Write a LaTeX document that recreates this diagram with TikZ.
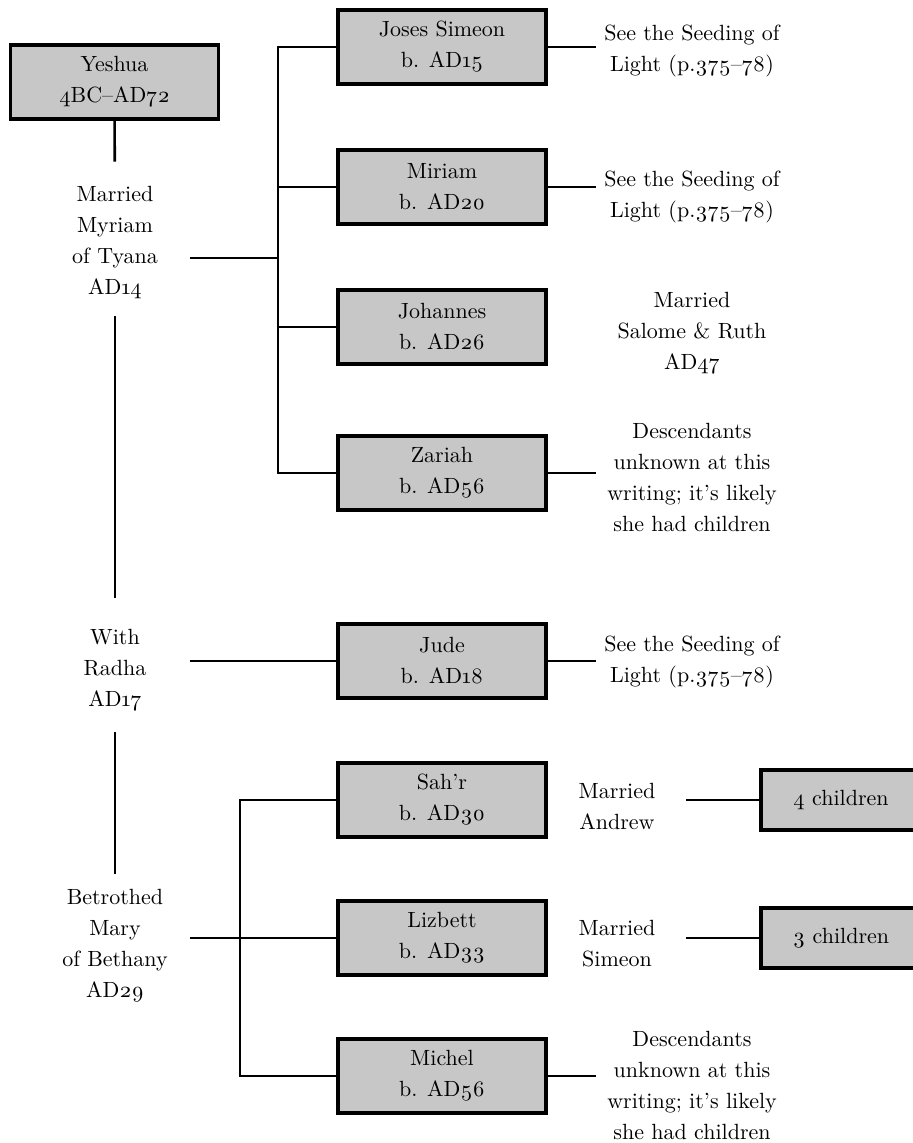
\documentclass[tikz,border=0pt]{standalone}
\usepackage{fontspec}
\setmainfont{Latin Modern Roman}[Numbers=OldStyle]
\usepackage{tikz}
\usetikzlibrary{calc}
\definecolor{boxgray}{RGB}{199,199,199}

\begin{document}
\begin{tikzpicture}[x=0.5pt,y=-0.5pt,
  font=\fontsize{11}{15.5}\selectfont,
  person/.style={draw,line width=1.6pt,fill=boxgray,minimum width=104pt,minimum height=37pt,align=center,inner sep=2pt},
  kids/.style={draw,line width=1.6pt,fill=boxgray,minimum width=80pt,minimum height=30pt},
  union/.style={text width=75pt,inner xsep=0pt,align=center},
  note/.style={text width=92pt,inner xsep=0pt,align=center},
  spouse/.style={text width=61pt,inner xsep=4pt,align=center},
  link/.style={line width=1.3pt}]
\useasboundingbox (0,0) rectangle (912,1143);
\node[person] (yeshua) at (114.5,82) {Yeshua\\4BC--AD72};
\node[union] (tyana) at (115,243) {Married\\Myriam\\of Tyana\\AD14};
\node[union] (radha) at (115,670) {With\\Radha\\AD17};
\node[union] (bethany) at (115,946) {Betrothed\\Mary\\of Bethany\\AD29};

\node[person] (joses) at (442,47) {Joses Simeon\\b. AD15};
\node[person] (miriam) at (442,187) {Miriam\\b. AD20};
\node[person] (johannes) at (442,327) {Johannes\\b. AD26};
\node[person] (zariah) at (442,473) {Zariah\\b. AD56};
\node[person] (jude) at (442,661) {Jude\\b. AD18};
\node[person] (sahr) at (442,800) {Sah'r\\b. AD30};
\node[person] (lizbett) at (442,938) {Lizbett\\b. AD33};
\node[person] (michel) at (442,1076) {Michel\\b. AD56};

\node[note] (josesnote) at (692,51) {See the Seeding of\\Light (p.375--78)};
\node[note] (miriamnote) at (692,197) {See the Seeding of\\Light (p.375--78)};
\node[note] (johannesnote) at (692,333) {Married\\Salome \& Ruth\\AD47};
\node[note] (zariahnote) at (692,477) {Descendants\\unknown at this\\writing; it's likely\\she had children};
\node[note] (judenote) at (692,662) {See the Seeding of\\Light (p.375--78)};
\node[note] (michelnote) at (692,1085) {Descendants\\unknown at this\\writing; it's likely\\she had children};

\node[spouse] (andrew) at (617,806) {Married\\Andrew};
\node[spouse] (simeon) at (617,944) {Married\\Simeon};
\node[kids] (four) at (841,800) {4 children};
\node[kids] (three) at (841,938) {3 children};

\coordinate (tbus) at (278,258);
\coordinate (bbus) at (240,938);

\draw[link,shorten >=9pt] (yeshua) -- (tyana);
\draw[link,shorten <=5pt,shorten >=12pt] (tyana) -- (radha);
\draw[link,shorten <=7pt,shorten >=4pt] (radha) -- (bethany);

\draw[link] (tyana.east |- tbus) -- (tbus);
\draw[link] (joses.west) -| (tbus) |- (zariah.west);
\draw[link] (miriam.west) -- (miriam.west -| tbus);
\draw[link] (johannes.west) -- (johannes.west -| tbus);
\draw[link] (radha.east |- jude) -- (jude.west);
\draw[link] (bethany.east |- lizbett) -- (lizbett.west);
\draw[link] (sahr.west) -| (bbus) |- (michel.west);

\draw[link,shorten >=2pt] (joses.east) -- (joses -| josesnote.west);
\draw[link,shorten >=2pt] (miriam.east) -- (miriam -| miriamnote.west);
\draw[link,shorten >=2pt] (zariah.east) -- (zariah -| zariahnote.west);
\draw[link,shorten >=2pt] (jude.east) -- (jude -| judenote.west);
\draw[link,shorten >=2pt] (michel.east) -- (michel -| michelnote.west);
\draw[link] (andrew.east |- four) -- (four.west);
\draw[link] (simeon.east |- three) -- (three.west);
\end{tikzpicture}
\end{document}
